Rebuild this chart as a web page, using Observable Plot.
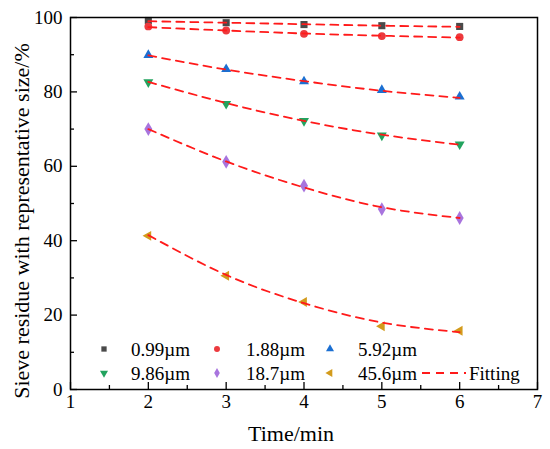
<!DOCTYPE html>
<html>
<head>
<meta charset="utf-8">
<script src="https://cdn.jsdelivr.net/npm/d3@7"></script>
<script src="https://cdn.jsdelivr.net/npm/@observablehq/plot@0.6"></script>
<style>
  html, body { margin: 0; padding: 0; background: #fff; overflow: hidden; }
  #chart { position: relative; width: 550px; height: 449px; }
  .ttl { position: absolute; font-family: "Liberation Serif", serif; font-size: 22px; line-height: 22px; height: 22px; text-align: center; color: black; white-space: nowrap; }
</style>
</head>
<body>
<div id="chart"></div>
<script>
// ---- data ----
const times = [2, 3, 4, 5, 6];
const sizes = ["0.99µm", "1.88µm", "5.92µm", "9.86µm", "18.7µm", "45.6µm"];
const colors = ["#4a4a4a", "#ec3a3e", "#1b6fd2", "#22a35e", "#a874de", "#d39b1c"];
const measured = [
  [99.2, 98.6, 98.1, 97.8, 97.6],
  [97.6, 96.5, 95.6, 95.0, 94.7],
  [89.9, 86.1, 82.8, 80.5, 78.7],
  [82.6, 76.8, 72.2, 68.3, 65.9],
  [70.0, 61.2, 54.8, 48.5, 46.1],
  [41.3, 30.6, 23.5, 17.0, 15.8]
];
const fitted = [
  [99.0, 98.6, 98.2, 97.8, 97.5],
  [97.4, 96.5, 95.7, 95.1, 94.6],
  [89.8, 86.0, 82.9, 80.3, 78.4],
  [82.7, 77.0, 72.2, 68.5, 65.8],
  [70.0, 61.3, 54.3, 49.0, 46.1],
  [41.5, 30.8, 23.2, 18.0, 15.4]
];
const xTicks = [1, 2, 3, 4, 5, 6, 7];
const xMinor = [1.5, 2.5, 3.5, 4.5, 5.5, 6.5];
const yTicks = [0, 20, 40, 60, 80, 100];
const yMinor = [10, 30, 50, 70, 90];
const xTitle = "Time/min";
const yTitle = "Sieve residue with representative size/%";

// ---- custom symbols ----
const sq3 = Math.sqrt(3);
const triDown = { draw(ctx, size) { const y = -Math.sqrt(size / (sq3 * 3)); ctx.moveTo(0, -2 * y); ctx.lineTo(-sq3 * y, y); ctx.lineTo(sq3 * y, y); ctx.closePath(); } };
const triLeft = { draw(ctx, size) { const y = -Math.sqrt(size / (sq3 * 3)); ctx.moveTo(2 * y, 0); ctx.lineTo(-y, -sq3 * y); ctx.lineTo(-y, sq3 * y); ctx.closePath(); } };
const symbols = [d3.symbolSquare, d3.symbolCircle, d3.symbolTriangle, triDown, d3.symbolDiamond, triLeft];
const radii = [4, 3.9, 3.7, 3.7, 4.2, 3.7];

const rows = [];
sizes.forEach((s, i) => times.forEach((t, j) => rows.push({ size: s, idx: i, time: t, value: measured[i][j], fit: fitted[i][j] })));

const W = 550, H = 449, ML = 70, MR = 13, MT = 17, MB = 60;
const FW = W - ML - MR, FH = H - MT - MB;
const FONT = "Liberation Serif";

const marks = [
  Plot.axisX({ ticks: xTicks, tickSize: 0, tickPadding: 5, fontSize: 19, fontFamily: FONT, label: null, tickFormat: d => d }),
  Plot.axisY({ ticks: yTicks, tickSize: 0, tickPadding: 8, fontSize: 19, fontFamily: FONT, label: null, tickFormat: d => d }),
  Plot.tickY(yTicks, { y: d => d, insetRight: FW - 7, stroke: "black", strokeWidth: 1.3 }),
  Plot.tickY(yMinor, { y: d => d, insetRight: FW - 4, stroke: "black", strokeWidth: 1.3 }),
  Plot.tickX(xTicks, { x: d => d, insetTop: FH - 7, stroke: "black", strokeWidth: 1.3 }),
  Plot.tickX(xMinor, { x: d => d, insetTop: FH - 4, stroke: "black", strokeWidth: 1.3 })
];
sizes.forEach((s, i) => {
  marks.push(Plot.dot(rows.filter(d => d.idx === i), { x: "time", y: "value", symbol: symbols[i], fill: colors[i], r: radii[i], stroke: "none" }));
});
sizes.forEach((s, i) => {
  marks.push(Plot.line(rows.filter(d => d.idx === i), { x: "time", y: "fit", stroke: "#ff1a1a", strokeWidth: 1.8, strokeDasharray: "8,6", curve: "natural" }));
});
marks.push(Plot.frame({ stroke: "black", strokeWidth: 1.5 }));

const chart = Plot.plot({
  width: W, height: H,
  marginLeft: ML, marginRight: MR, marginTop: MT, marginBottom: MB,
  x: { domain: [1, 7] },
  y: { domain: [0, 100] },
  marks
});

const svg = d3.select(chart).attr("font-family", FONT).style("font-family", FONT);
function addText(x, y, txt, size, anchor) {
  return svg.append("text").attr("x", x).attr("y", y).attr("text-anchor", anchor)
    .attr("font-size", size).attr("fill", "black").text(txt);
}

// legend
const legRows = [349, 373];
const markX = [104, 217, 330];
const textX = [131, 246, 358];
sizes.forEach((s, i) => {
  const r = Math.floor(i / 3), c = i % 3;
  const y = legRows[r];
  svg.append("path").attr("transform", `translate(${markX[c]},${y})`)
    .attr("d", d3.symbol(symbols[i], 28)()).attr("fill", colors[i]);
  addText(textX[c], y, s, 19, "start").attr("dy", "0.35em");
});
svg.append("line").attr("x1", 422).attr("x2", 466).attr("y1", 373).attr("y2", 373)
  .attr("stroke", "#ff1a1a").attr("stroke-width", 1.8).attr("stroke-dasharray", "8,6");
addText(469, 373, "Fitting", 19, "start").attr("dy", "0.35em");

svg.selectAll("text").attr("font-family", FONT).style("font-family", FONT).style("font-weight", "400");

const host = document.getElementById("chart");
host.appendChild(chart);

// axis titles as HTML text over the svg
const xt = document.createElement("div");
xt.className = "ttl";
xt.style.left = "191px"; xt.style.top = "423px"; xt.style.width = "200px";
xt.textContent = xTitle;
host.appendChild(xt);

const yt = document.createElement("div");
yt.className = "ttl";
yt.style.left = "-203px"; yt.style.top = "210px"; yt.style.width = "450px";
yt.style.transform = "rotate(-90deg)";
yt.textContent = yTitle;
host.appendChild(yt);
</script>
</body>
</html>
